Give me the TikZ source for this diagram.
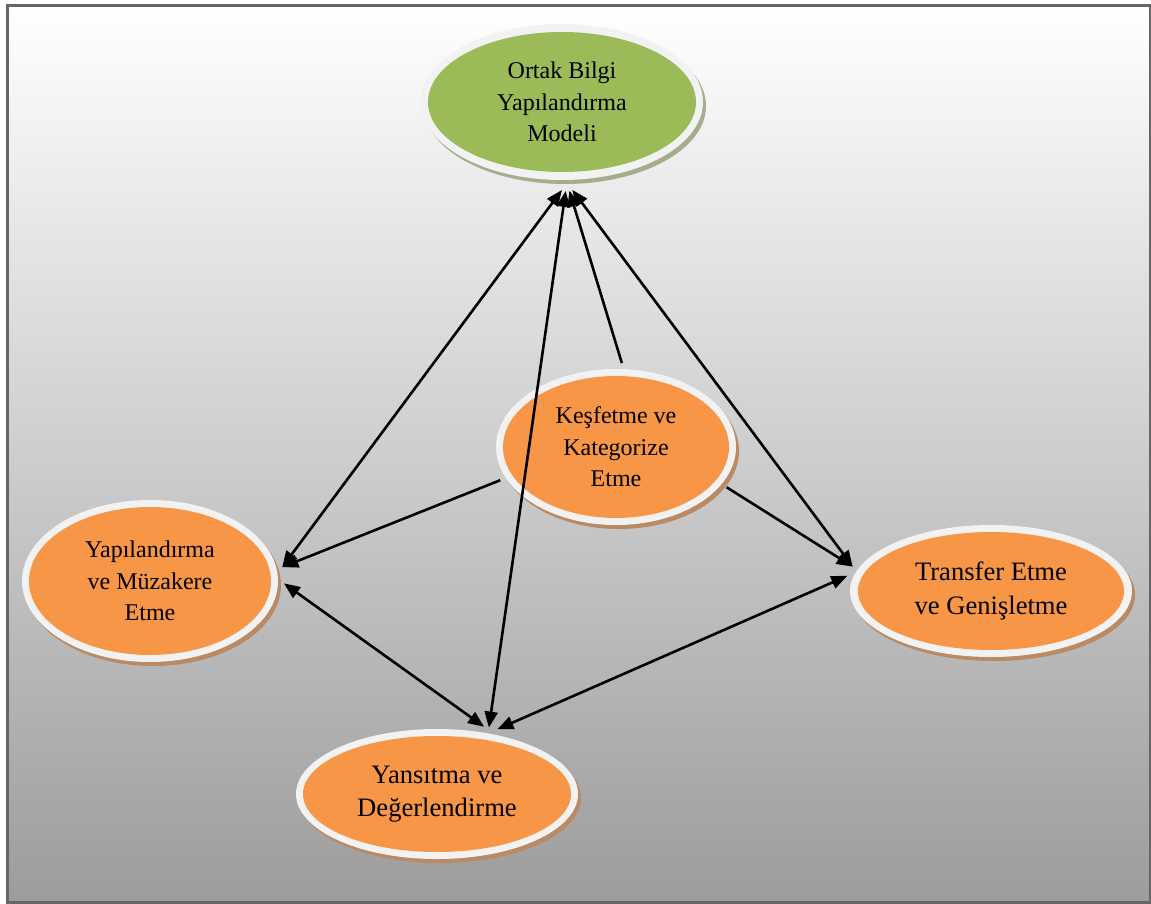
\documentclass[tikz,border=0pt]{standalone}
\usepackage{fontspec}
\setmainfont{Liberation Serif}
\usetikzlibrary{shapes.geometric,arrows.meta,shadows}
\definecolor{ringc}{HTML}{F2F2F2}
\definecolor{grn}{HTML}{9BBB59}
\definecolor{orng}{HTML}{F79646}
\definecolor{shadbr}{HTML}{B98A64}
\definecolor{shadgr}{HTML}{A4AE8C}
\definecolor{frame}{HTML}{666666}
\definecolor{bgbot}{HTML}{9C9C9C}
\tikzset{
  ring/.style={ellipse, fill=ringc, draw=none, inner sep=0pt, outer sep=6pt,
    drop shadow={shadow xshift=3pt, shadow yshift=-4pt, fill=#1, opacity=1}},
  core/.style={ellipse, fill=#1, draw=none, inner sep=0pt, align=center, text=black},
  fsmall/.style={font=\fontsize{24}{31.5}\selectfont},
  fbig/.style={font=\fontsize{26.6}{33.5}\selectfont},
  conn/.style={line width=2.6pt, draw=black},
  tipb/.style={conn, {Triangle[length=16pt,width=13pt]}-{Triangle[length=16pt,width=13pt]}},
  tipe/.style={conn, -{Triangle[length=16pt,width=13pt]}}
}
\begin{document}
\begin{tikzpicture}[x=1pt,y=-1pt]
\useasboundingbox (0,0) rectangle (1151,904);
\fill[white] (0,0) rectangle (1151,904);
\shade[top color=white, bottom color=bgbot] (7,6) rectangle (1150,902);
\draw[frame, line width=3pt] (7,6) rectangle (1150,902);

% outer rings
\node[ring=shadgr, minimum width=282, minimum height=156] (top) at (562,102) {};
\node[ring=shadbr, minimum width=240, minimum height=156] (kes) at (616,447) {};
\node[ring=shadbr, minimum width=256, minimum height=162] (yap) at (150,581) {};
\node[ring=shadbr, minimum width=282, minimum height=132] (trans) at (991,591) {};
\node[ring=shadbr, minimum width=282, minimum height=130] (yans) at (437,794) {};

% inner fills with text
\node[core=grn, fsmall, minimum width=268, minimum height=140] (topin) at (top.center) {Ortak Bilgi\\Yapılandırma\\Modeli};
\node[core=orng, fsmall, minimum width=226, minimum height=142] (kesin) at (kes.center) {Keşfetme ve\\Kategorize\\Etme};
\node[core=orng, fsmall, minimum width=242, minimum height=148] (yapin) at (yap.center) {Yapılandırma\\ve Müzakere\\Etme};
\node[core=orng, fbig, minimum width=266, minimum height=118] (transin) at (trans.center) {Transfer Etme\\ve Genişletme};
\node[core=orng, fbig, minimum width=268, minimum height=116] (yansin) at (yans.center) {Yansıtma ve\\Değerlendirme};

% connectors
\draw[tipb, shorten <=5pt] (top.-88) -- (yap.6);
\draw[tipb, shorten <=5pt] (top.-87) -- (yans.52);
\draw[tipb, shorten <=5pt] (top.-85) -- (trans.170);
\draw[tipe, shorten >=5pt] (kes.86) -- (top.-86);
\draw[tipe] (kes.-164) -- (yap.6);
\draw[tipe] (kes.-20) -- (trans.170);
\draw[tipb] (yap.-1) -- (yans.55);
\draw[tipb] (yans.47) -- (trans.174);
\end{tikzpicture}
\end{document}
